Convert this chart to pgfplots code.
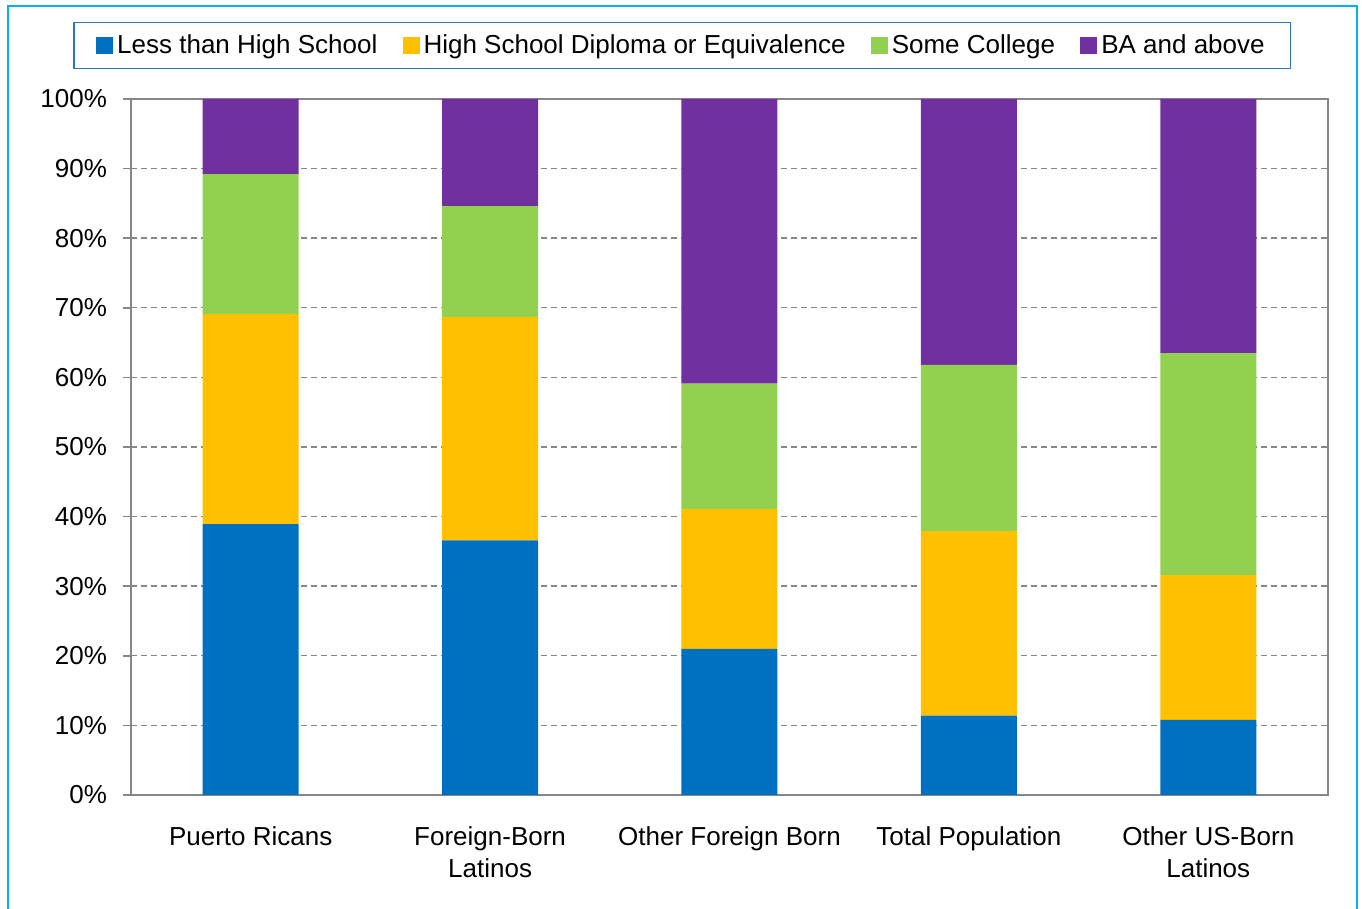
\documentclass[border=0pt]{standalone}
\usepackage{pgfplots}
\pgfplotsset{compat=1.18}
\usepackage{fontspec}
\setmainfont{Liberation Sans}
\definecolor{cblue}{HTML}{0070C0}
\definecolor{cyellow}{HTML}{FFC000}
\definecolor{cgreen}{HTML}{92D050}
\definecolor{cpurple}{HTML}{7030A0}
\definecolor{frame}{HTML}{00B0F0}
\definecolor{legframe}{HTML}{2E75B6}
\definecolor{axgray}{HTML}{868686}
\begin{document}
\begin{tikzpicture}
\begin{axis}[
  at={(0,0)}, anchor=south west,
  scale only axis, width=598.5pt, height=348pt,
  ybar stacked, bar width=48pt,
  xmin=-0.5, xmax=4.5, ymin=0, ymax=100,
  xtick={0,1,2,3,4},
  xticklabels={Puerto Ricans,{Foreign-Born\\Latinos},Other Foreign Born,Total Population,{Other US-Born\\Latinos}},
  xticklabel style={align=center, text depth=0pt},
  x tick label style={yshift=-8.5pt},
  xtick pos=bottom, ytick pos=left,
  major x tick style={draw=none},
  extra x ticks={-0.5,0.5,1.5,2.5,3.5,4.5},
  extra x tick labels={},
  extra x tick style={major tick length=4pt, tick align=outside, grid=none, tick style={axgray, line width=0.8pt}},
  ytick={0,10,...,100},
  yticklabel={\pgfmathprintnumber{\tick}\%},
  y tick label style={xshift=-4.5pt},
  /pgf/number format/assume math mode=true,
  tick label style={font=\fontsize{13}{16}\selectfont},
  tick align=outside, major tick length=4pt,
  y tick style={axgray, line width=0.8pt},
  ymajorgrids, grid style={axgray, dash pattern=on 3pt off 2pt, line width=0.7pt},
  axis line style={axgray, line width=0.8pt},
  legend columns=4,
  legend style={at={(rel axis cs:0.4607,1.0769)}, anchor=center, draw=legframe, line width=0.8pt,
    font=\fontsize{13}{15}\selectfont, inner xsep=11pt, inner ysep=4pt,
    /tikz/every even column/.append style={column sep=10.6pt}},
  legend image code/.code={\fill[#1] (0pt,-4.25pt) rectangle (8.5pt,4.25pt);},
  legend cell align=left,
]
\addplot[fill=cblue, draw=none] coordinates {(0,38.9) (1,36.6) (2,21.0) (3,11.4) (4,10.8)};
\addplot[fill=cyellow, draw=none] coordinates {(0,30.2) (1,32.1) (2,20.1) (3,26.5) (4,20.8)};
\addplot[fill=cgreen, draw=none] coordinates {(0,20.1) (1,15.9) (2,18.0) (3,23.9) (4,31.9)};
\addplot[fill=cpurple, draw=none] coordinates {(0,10.8) (1,15.4) (2,40.9) (3,38.2) (4,36.5)};
\legend{Less than High School, High School Diploma or Equivalence, Some College, BA and above}
\end{axis}
\draw[frame, line width=1pt] (-61.5pt,-70pt) -- (-61.5pt,394.5pt) -- (613pt,394.5pt) -- (613pt,-70pt);
\pgfresetboundingbox
\path[use as bounding box] (-65.5pt,-57pt) rectangle (615.5pt,397.5pt);
\end{tikzpicture}
\end{document}
